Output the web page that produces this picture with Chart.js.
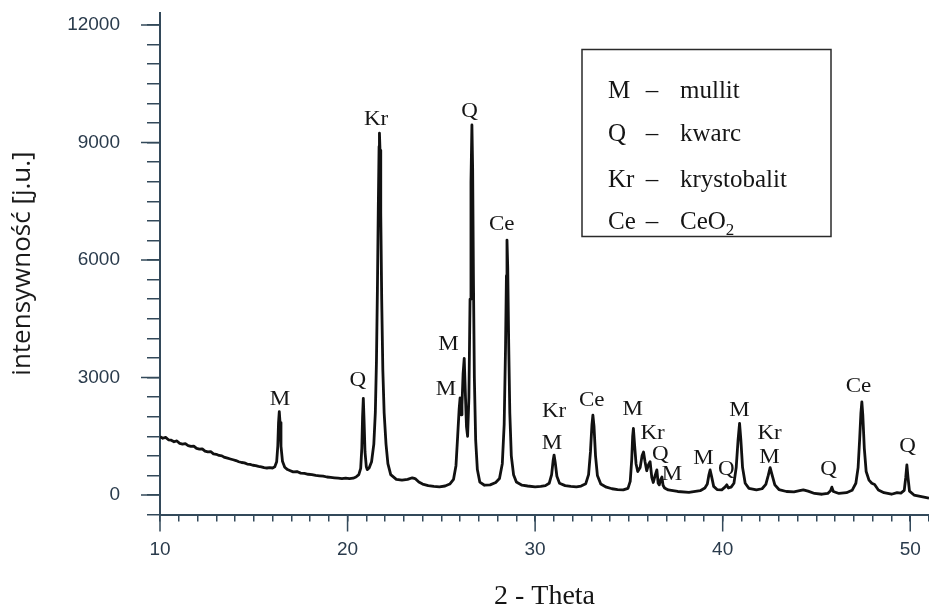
<!DOCTYPE html>
<html lang="pl">
<head>
<meta charset="utf-8">
<title>XRD</title>
<script src="https://cdn.jsdelivr.net/npm/chart.js@4.4.1/dist/chart.umd.min.js"></script>
<style>
  html, body { margin: 0; padding: 0; background: #fff; }
  canvas { display: block; }
</style>
</head>
<body>
<canvas id="xrdChart" width="929" height="607"></canvas>
<script>
// 2-theta positions and measured intensities of the pattern
const theta = [
  10.00, 10.15, 10.30, 10.45, 10.60, 10.75, 10.90, 11.05, 11.20, 11.35,
  11.50, 11.65, 11.80, 11.95, 12.10, 12.25, 12.40, 12.55, 12.70, 12.85,
  13.00, 13.15, 13.30, 13.45, 13.60, 13.75, 13.90, 14.05, 14.20, 14.35,
  14.50, 14.65, 14.80, 14.95, 15.10, 15.25, 15.40, 15.55, 15.70, 15.85,
  16.00, 16.12, 16.22, 16.28, 16.32, 16.36, 16.40, 16.45, 16.53, 16.65,
  16.80, 16.95, 17.10, 17.30, 17.50, 17.70, 17.90, 18.10, 18.30, 18.50,
  18.70, 18.90, 19.10, 19.30, 19.50, 19.70, 19.90, 20.10, 20.30, 20.45,
  20.60, 20.70, 20.76, 20.80, 20.84, 20.88, 20.93, 21.00, 21.05, 21.15,
  21.28, 21.40, 21.48, 21.54, 21.59, 21.64, 21.68, 21.70, 21.73, 21.77,
  21.82, 21.88, 21.95, 22.05, 22.15, 22.30, 22.60, 22.90, 23.20, 23.45,
  23.60, 23.80, 24.00, 24.30, 24.60, 24.90, 25.20, 25.45, 25.65, 25.78,
  25.87, 25.95, 26.00, 26.05, 26.10, 26.16, 26.22, 26.28, 26.34, 26.40,
  26.47, 26.53, 26.58, 26.63, 26.67, 26.71, 26.76, 26.83, 26.92, 27.05,
  27.30, 27.60, 27.90, 28.10, 28.25, 28.35, 28.42, 28.47, 28.50, 28.54,
  28.59, 28.65, 28.73, 28.85, 29.00, 29.30, 29.60, 30.00, 30.30, 30.55,
  30.75, 30.88, 30.96, 31.01, 31.07, 31.16, 31.30, 31.60, 31.90, 32.20,
  32.45, 32.70, 32.85, 32.95, 33.03, 33.08, 33.14, 33.22, 33.32, 33.50,
  33.80, 34.10, 34.40, 34.70, 34.95, 35.07, 35.15, 35.20, 35.24, 35.30,
  35.38, 35.47, 35.60, 35.70, 35.78, 35.86, 35.95, 36.05, 36.13, 36.22,
  36.30, 36.40, 36.49, 36.56, 36.62, 36.70, 36.76, 36.82, 36.90, 37.10,
  37.60, 38.20, 38.80, 39.05, 39.18, 39.26, 39.33, 39.41, 39.52, 39.70,
  39.95, 40.12, 40.22, 40.30, 40.45, 40.60, 40.72, 40.82, 40.90, 40.97,
  41.06, 41.20, 41.40, 41.80, 42.10, 42.30, 42.43, 42.53, 42.63, 42.78,
  43.00, 43.40, 43.80, 44.10, 44.30, 44.55, 44.90, 45.30, 45.60, 45.75,
  45.82, 45.90, 46.20, 46.60, 46.90, 47.10, 47.22, 47.30, 47.37, 47.42,
  47.47, 47.55, 47.65, 47.80, 47.95, 48.10, 48.30, 48.60, 49.00, 49.30,
  49.50, 49.68, 49.76, 49.82, 49.88, 49.96, 50.20, 50.60, 51.00
];
const intensity = [
  1490, 1450, 1470, 1410, 1400, 1360, 1380, 1320, 1300, 1310,
  1260, 1240, 1250, 1190, 1170, 1180, 1120, 1100, 1110, 1050,
  1040, 1010, 1000, 960, 940, 920, 900, 880, 850, 830,
  820, 790, 780, 760, 750, 730, 720, 700, 690, 700,
  690, 720, 850, 1250, 1850, 2130, 1850, 1250, 860, 710,
  650, 620, 590, 600, 560, 550, 530, 520, 500, 490,
  480, 460, 450, 440, 430, 420, 430, 420, 430, 460,
  520, 680, 1200, 2000, 2470, 1900, 1100, 720, 650, 690,
  850, 1300, 2100, 3400, 5200, 7400, 8900, 9240, 8800, 7200,
  5000, 3200, 2100, 1300, 800, 520, 400, 380, 400, 440,
  420, 330, 280, 240, 220, 210, 230, 280, 400, 750,
  1500, 2200, 2480, 2050, 2300, 3100, 3490, 2600, 1750, 1500,
  2500, 5000, 8000, 9450, 8300, 5600, 3000, 1400, 650, 330,
  250, 260, 320, 420, 800, 1800, 3700, 5600, 6510, 5800,
  3900, 2100, 1000, 520, 330, 250, 230, 210, 220, 240,
  300, 520, 880, 1020, 840, 480, 300, 240, 220, 210,
  230, 290, 520, 1100, 1800, 2040, 1750, 1000, 500, 280,
  200, 160, 140, 130, 170, 350, 900, 1500, 1700, 1300,
  800, 600, 700, 1000, 1100, 850, 620, 780, 850, 450,
  320, 500, 640, 300, 260, 400, 460, 250, 180, 130,
  90, 70, 110, 180, 280, 500, 640, 470, 220, 140,
  130, 200, 260, 180, 200, 300, 700, 1400, 1830, 1400,
  700, 300, 170, 130, 160, 270, 500, 700, 520, 260,
  140, 90, 80, 110, 130, 100, 40, 20, 40, 110,
  200, 90, 40, 60, 120, 300, 700, 1400, 2100, 2380,
  2050, 1200, 600, 380, 300, 270, 130, 60, 20, 60,
  50, 120, 450, 770, 450, 100, 0, -40, -80
];

// phase labels above the peaks (text, 2-theta, intensity where the text sits)
const peakNames = ["M", "Q", "Kr", "M", "M", "Q", "Ce", "Kr", "M", "Ce", "M", "Kr", "Q", "M", "M", "Q", "M", "Kr", "M", "Q", "Ce", "Q"];
const peakTheta = [16.40, 20.55, 21.52, 25.38, 25.25, 26.50, 28.22, 31.01, 30.90, 33.02, 35.21, 36.26, 36.67, 37.29, 38.98, 40.19, 40.90, 42.50, 42.50, 45.64, 47.24, 49.86];
const peakLabelY = [2420, 2930, 9580, 3830, 2680, 9790, 6890, 2130, 1320, 2410, 2170, 1570, 1020, 510, 920, 650, 2150, 1570, 960, 640, 2770, 1230];

// key of the phase symbols
const legendKeys = ["M", "Q", "Kr", "Ce"];
const legendNames = ["mullit", "kwarc", "krystobalit", "CeO"];

// intensity axis: minor step and labelled step
const yMinorStep = 500;
const yLabelStep = 3000;

const axisColor = "#33495a";
const tickColor = "#2a3b4c";

document.addEventListener("DOMContentLoaded", () => {
  const ctx = document.getElementById("xrdChart").getContext("2d");

  // Longer ticks, peak labels and the phase key
  const annotations = {
    id: "annotations",
    afterDraw(chart) {
      const { ctx, scales: { x, y } } = chart;
      ctx.save();

      ctx.strokeStyle = axisColor;
      ctx.lineWidth = 1.5;
      ctx.beginPath();
      for (let v = 10; v <= 50; v += 10) {
        const px = x.getPixelForValue(v);
        ctx.moveTo(px, y.bottom);
        ctx.lineTo(px, y.bottom + 17);
      }
      for (let v = 0; v <= 12000; v += yLabelStep) {
        const py = y.getPixelForValue(v);
        ctx.moveTo(x.left, py);
        ctx.lineTo(x.left - 19, py);
      }
      ctx.stroke();

      ctx.fillStyle = "#151515";
      ctx.font = '20px "Liberation Serif"';
      ctx.textAlign = "center";
      ctx.textBaseline = "middle";
      peakNames.forEach((name, i) => {
        const px = x.getPixelForValue(peakTheta[i]);
        const py = y.getPixelForValue(peakLabelY[i]);
        ctx.save();
        ctx.translate(px, py);
        ctx.scale(1.15, 1);
        ctx.fillText(name, 0, 0);
        ctx.restore();
      });

      // key box
      ctx.strokeStyle = "#2a2a2a";
      ctx.lineWidth = 1.5;
      ctx.strokeRect(582, 49.5, 249, 187);
      ctx.font = '25px "Liberation Serif"';
      ctx.textBaseline = "alphabetic";
      const rows = [98, 141, 187, 229];
      legendKeys.forEach((key, i) => {
        ctx.textAlign = "left";
        ctx.fillText(key, 608, rows[i]);
        ctx.textAlign = "center";
        ctx.fillText("\u2013", 652, rows[i]);
        ctx.textAlign = "left";
        ctx.fillText(legendNames[i], 680, rows[i]);
      });
      const oWidth = ctx.measureText(legendNames[3]).width;
      ctx.font = '17px "Liberation Serif"';
      ctx.fillText("2", 680 + oWidth, rows[3] + 6);

      ctx.restore();
    },
  };

  new Chart(ctx, {
    type: "line",
    data: {
      datasets: [
        {
          label: "XRD",
          data: theta.map((t, i) => ({ x: t, y: intensity[i] })),
          borderColor: "#111111",
          borderWidth: 2.8,
          pointRadius: 0,
          tension: 0,
          borderJoinStyle: "round",
          fill: false,
        },
      ],
    },
    options: {
      responsive: false,
      animation: false,
      layout: { padding: { top: 12.5, right: 0, bottom: 0, left: 0 } },
      plugins: {
        legend: { display: false },
        tooltip: { enabled: false },
      },
      scales: {
        x: {
          type: "linear",
          min: 10,
          max: 51,
          afterFit: (scale) => {
            scale.height = 92.4;
            scale.paddingLeft = 0;
            scale.paddingRight = 0;
          },
          border: { display: true, color: axisColor, width: 2 },
          grid: {
            drawOnChartArea: false,
            drawTicks: true,
            tickLength: 7,
            color: axisColor,
            lineWidth: 1.5,
          },
          ticks: {
            stepSize: 1,
            autoSkip: false,
            maxRotation: 0,
            padding: 17,
            color: tickColor,
            font: { family: "Liberation Sans", size: 19 },
            callback: (v) => {
              const r = Math.round(v);
              return r % 10 === 0 && r <= 50 ? String(r) : "";
            },
          },
          title: {
            display: true,
            text: "2 - Theta",
            color: "#151515",
            font: { family: "Liberation Serif", size: 28, lineHeight: 1 },
            padding: { top: 0, bottom: -4 },
          },
        },
        y: {
          type: "linear",
          min: -500,
          max: 12320,
          afterFit: (scale) => {
            scale.width = 160;
            scale.paddingTop = 0;
            scale.paddingBottom = 0;
          },
          // the axis top is not a whole step, so lay the ticks out on exact steps
          afterBuildTicks: (scale) => {
            const ticks = [];
            for (let v = -500; v <= 12000; v += yMinorStep) ticks.push({ value: v });
            scale.ticks = ticks;
          },
          border: { display: true, color: axisColor, width: 2 },
          grid: {
            drawOnChartArea: false,
            drawTicks: true,
            tickLength: 13,
            color: axisColor,
            lineWidth: 1.5,
          },
          ticks: {
            autoSkip: false,
            padding: 27,
            color: tickColor,
            font: { family: "Liberation Sans", size: 19 },
            callback: (v) => (v >= 0 && v % yLabelStep === 0 ? String(v) : ""),
          },
          title: {
            display: true,
            text: "intensywność [j.u.]",
            color: "#1a1a1a",
            font: { family: "Open Sans", size: 26, lineHeight: 1.2 },
            padding: { top: 7, bottom: 0 },
          },
        },
      },
    },
    plugins: [annotations],
  });
});
</script>
</body>
</html>
